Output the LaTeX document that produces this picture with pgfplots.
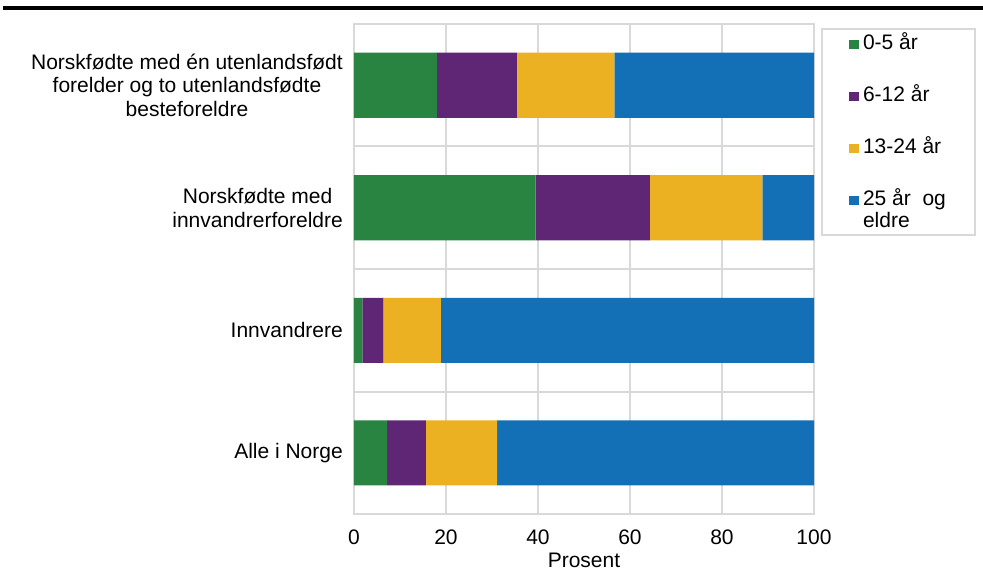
\documentclass[border=0pt]{standalone}
\usepackage{pgfplots}
\pgfplotsset{compat=1.18}
\usepackage{fontspec}
\setmainfont{Liberation Sans}

\definecolor{agegreen}{HTML}{298341}
\definecolor{agepurple}{HTML}{5F2676}
\definecolor{ageyellow}{HTML}{EBB122}
\definecolor{ageblue}{HTML}{136FB6}
\definecolor{gridgray}{HTML}{D9D9D9}

\begin{document}
\begin{tikzpicture}
\useasboundingbox (0pt,0pt) rectangle (983pt,571pt);
% rule under the (cut off) figure title
\fill[black] (3pt,561pt) rectangle (983pt,565pt);
% legend frame
\draw[gridgray, line width=2pt] (822pt,542pt) rectangle (975pt,336pt);

\begin{axis}[
    at={(354pt,57pt)}, anchor=south west,
    scale only axis,
    width=460pt, height=490pt,
    xbar stacked,
    bar width=65pt,
    xmin=0, xmax=100,
    ymin=-0.5, ymax=3.5,
    xtick={0,20,40,60,80,100},
    ytick={0,1,2,3},
    yticklabels={Alle i Norge, Innvandrere, {Norskfødte med\\innvandrerforeldre}, {Norskfødte med én utenlandsfødt\\forelder og to utenlandsfødte\\besteforeldre}},
    minor ytick={0.5,1.5,2.5},
    xmajorgrids, yminorgrids,
    grid style={gridgray, line width=2pt},
    minor grid style={gridgray, line width=2pt},
    axis line style={gridgray, line width=2pt},
    major tick length=0pt, minor tick length=0pt,
    /pgf/number format/assume math mode=true,
    tick label style={font=\fontsize{21}{23.5}\selectfont, inner sep=0pt},
    xticklabel style={yshift=-15.5pt},
    yticklabel style={align=center, xshift=-11pt},
    xlabel={Prosent},
    xlabel style={at={(axis description cs:0.5,0)}, anchor=north, yshift=-39pt, inner sep=0pt,
        text depth=0pt, font=\fontsize{21}{23.5}\selectfont},
    legend style={draw=none, fill=none, at={(axis description cs:1.0761,0.9776)}, anchor=north west,
        inner sep=0pt, outer sep=0pt, row sep=33pt, column sep=4pt,
        font=\fontsize{21}{22}\selectfont,
        nodes={text height=15pt, text depth=4pt, inner sep=0pt},
        cells={anchor=base west}},
    legend image code/.code={\fill[#1] (0pt,1pt) rectangle (10pt,10pt);},
]
\addplot[fill=agegreen, draw=none] coordinates {(7.2,0) (1.8,1) (39.5,2) (18.0,3)};
\addlegendentry{0-5 år}
\addplot[fill=agepurple, draw=none] coordinates {(8.4,0) (4.6,1) (24.8,2) (17.4,3)};
\addlegendentry{6-12 år}
\addplot[fill=ageyellow, draw=none] coordinates {(15.5,0) (12.5,1) (24.5,2) (21.2,3)};
\addlegendentry{13-24 år}
\addplot[fill=ageblue, draw=none] coordinates {(68.9,0) (81.1,1) (11.2,2) (43.4,3)};
\addlegendentry{\begin{tabular}[t]{@{}l@{}}25 år\ \ og\\eldre\end{tabular}}
\end{axis}
\end{tikzpicture}
\end{document}
